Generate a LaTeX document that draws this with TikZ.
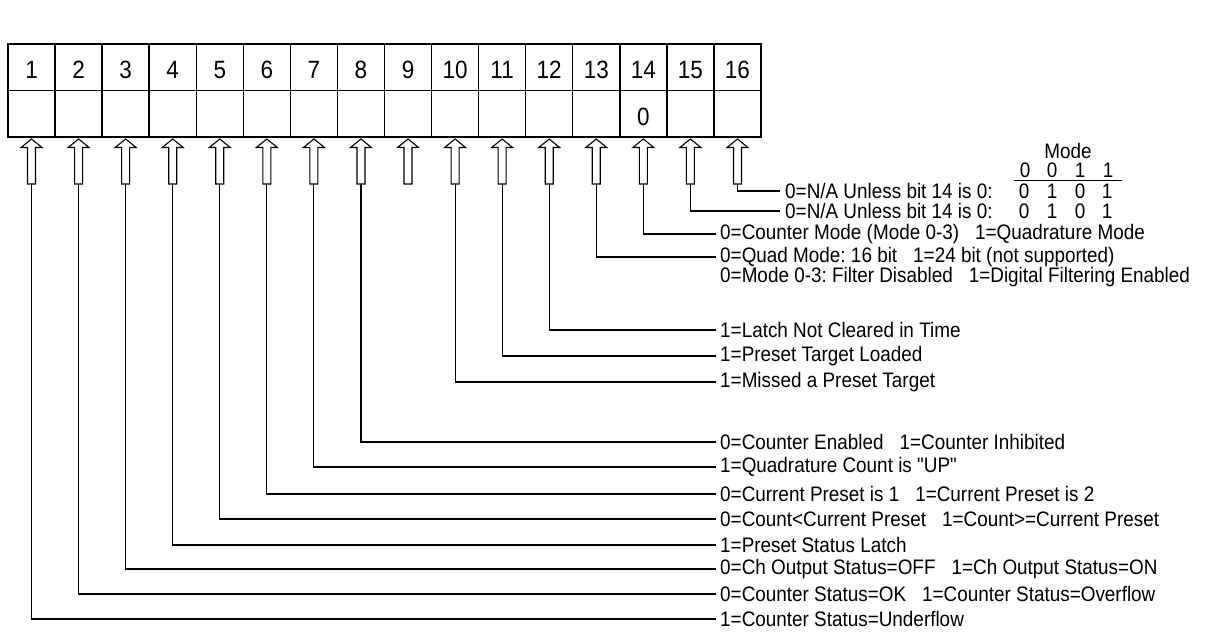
\documentclass[tikz,border=0pt]{standalone}
\usepackage{fontspec}
\setmainfont{Liberation Sans}[Ligatures=TeXOff,FakeStretch=0.9]
\newcommand{\gp}{\hspace{16pt}}
\begin{document}
\frenchspacing
\begin{tikzpicture}[x=1pt,y=-1pt,
  cell/.style={draw, line width=1.4pt, minimum width=47.06pt, minimum height=46.5pt, inner sep=0pt},
  num/.style={inner sep=0pt, font=\fontsize{25}{25}\selectfont},
  lbl/.style={anchor=west, inner sep=0pt, font=\fontsize{21}{22}\selectfont},
  dig/.style={inner sep=0pt, font=\fontsize{21}{22}\selectfont},
  conn/.style={line width=1.1pt},
  harrow/.style={draw, line width=1.1pt, fill=white, line join=miter}]
\useasboundingbox (0,0) rectangle (1210,633);
\foreach \i in {1,...,16} {
  \pgfmathsetmacro\cx{8+(\i-0.5)*47.0625}
  \node[cell] (n\i) at (\cx,67.25) {};
  \node[num] (t\i) at (\cx,70) {\i};
  \node[cell] (v\i) at (\cx,113.75) {};
  \draw[harrow] (\cx,139) -- (\cx+10.5,147.5) -- (\cx+4,147.5) -- (\cx+4,184) -- (\cx-4,184) -- (\cx-4,147.5) -- (\cx-10.5,147.5) -- cycle;
  \coordinate (a\i) at (\cx,184);
}
\node[num] (z14) at ([yshift=-3pt]v14.center) {0};

% mode header
\node[dig] (mode) at (1068,151) {Mode};
\node[dig] (h1) at (1025,170) {0};
\node[dig] (h2) at (1052,170) {0};
\node[dig] (h3) at (1080,170) {1};
\node[dig] (h4) at (1108,170) {1};
\coordinate (ul1) at (1014,180.5);
\coordinate (ul2) at (1122,180.5);
\draw[conn] (ul1) -- (ul2);

% labels
\node[lbl] (l16) at (785,191) {0=N/A Unless bit 14 is 0:};
\node[dig] (r16a) at (1024,191) {0};
\node[dig] (r16b) at (1052,191) {1};
\node[dig] (r16c) at (1080,191) {0};
\node[dig] (r16d) at (1107,191) {1};
\node[lbl] (l15) at (785,211) {0=N/A Unless bit 14 is 0:};
\node[dig] (r15a) at (1024,211) {0};
\node[dig] (r15b) at (1052,211) {1};
\node[dig] (r15c) at (1080,211) {0};
\node[dig] (r15d) at (1107,211) {1};
\node[lbl] (l14) at (720,234) {0=Counter Mode (Mode 0-3)\gp 1=Quadrature Mode};
\node[lbl] (l13) at (720,257) {0=Quad Mode: 16 bit\gp 1=24 bit (not supported)};
\node[lbl] (l13b) at (720,277) {0=Mode 0-3: Filter Disabled\gp 1=Digital Filtering Enabled};
\node[lbl] (l12) at (720,330) {1=Latch Not Cleared in Time};
\node[lbl] (l11) at (720,356) {1=Preset Target Loaded};
\node[lbl] (l10) at (720,382) {1=Missed a Preset Target};
\node[lbl] (l8) at (720,442) {0=Counter Enabled\gp 1=Counter Inhibited};
\node[lbl] (l7) at (720,467) {1=Quadrature Count is "UP"};
\node[lbl] (l6) at (720,494) {0=Current Preset is 1\gp 1=Current Preset is 2};
\node[lbl] (l5) at (720,519) {0=Count<Current Preset\gp 1=Count>=Current Preset};
\node[lbl] (l4) at (720,545) {1=Preset Status Latch};
\node[lbl] (l3) at (720,569) {0=Ch Output Status=OFF\gp 1=Ch Output Status=ON};
\node[lbl] (l2) at (720,594) {0=Counter Status=OK\gp 1=Counter Status=Overflow};
\node[lbl] (l1) at (720,619) {1=Counter Status=Underflow};

% connectors
\foreach \b in {16,15} \draw[conn] (a\b) |- ([xshift=-5pt]l\b.west);
\foreach \b in {14,13,12,11,10,8,7,6,5,4,3,2,1} \draw[conn] (a\b) |- ([xshift=-4pt]l\b.west);
\end{tikzpicture}
\end{document}
